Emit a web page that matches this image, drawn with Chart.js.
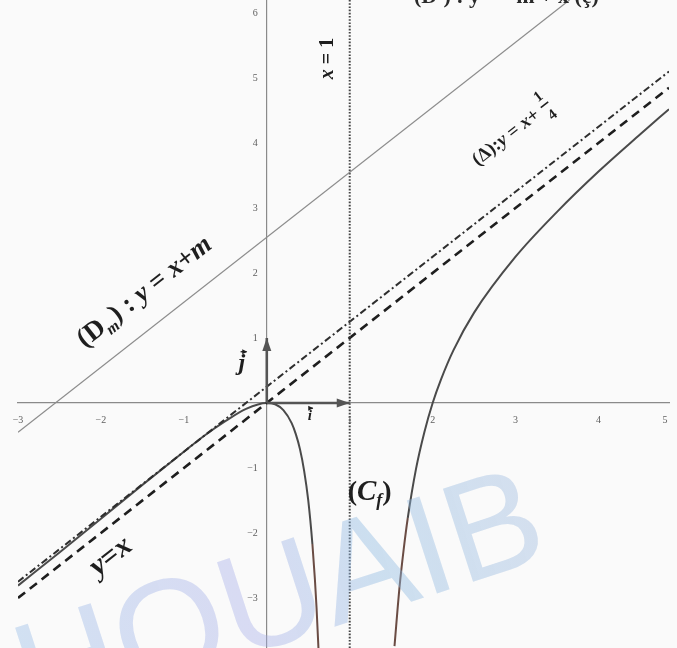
<!DOCTYPE html>
<html>
<head>
<meta charset="utf-8">
<script src="https://cdn.jsdelivr.net/npm/chart.js@4.4.0/dist/chart.umd.min.js"></script>
<style>
  html, body { margin: 0; padding: 0; background: #fafafa; }
  #wrap { width: 677px; height: 648px; }
</style>
</head>
<body>
<div id="wrap"><canvas id="graph"></canvas></div>
<script>
// (Cf) left branch, x < 1
const cfLeftX = [-3, -2.5, -2, -1.5, -1, -0.75, -0.5, -0.25, 0, 0.1, 0.2, 0.3, 0.35, 0.4, 0.45, 0.5, 0.55, 0.58, 0.6, 0.63];
const cfLeftY = [-2.81, -2.3, -1.78, -1.26, -0.75, -0.5, -0.28, -0.09, 0, -0.02, -0.11, -0.31, -0.48, -0.71, -1.04, -1.5, -2.17, -2.71, -3.15, -3.97];
// (Cf) right branch, x > 1
const cfRightX = [1.54, 1.6, 1.65, 1.7, 1.8, 1.9, 2, 2.1, 2.25, 2.5, 3, 3.5, 4, 4.5, 4.85];
const cfRightY = [-3.74, -2.84, -2.26, -1.77, -1.01, -0.45, 0, 0.36, 0.81, 1.39, 2.25, 2.94, 3.56, 4.13, 4.52];

// straight lines, end points
const dmX = [-3, 3.65];       // (Dm)
const dmY = [-0.45, 6.2];
const deltaX = [-3, 4.85];    // (Δ) tangent
const deltaY = [-2.75, 5.1];
const idX = [-3, 4.85];       // y = x
const idY = [-3, 4.85];
const asymX = [1, 1];         // x = 1
const asymY = [-3.77, 6.2];

// unit vectors i, j
const vecI = [[0, 0], [1, 0]];
const vecJ = [[0, 0], [0, 1]];

const xTicks = [-3, -2, -1, 1, 2, 3, 4, 5];
const yTicks = [-3, -2, -1, 1, 2, 3, 4, 5, 6];

const pts = (xs, ys) => xs.map((v, i) => ({ x: v, y: ys[i] }));

const SERIF = "'Liberation Serif', 'DejaVu Serif', serif";
const R = (s) => "bold " + s + "px " + SERIF;
const I = (s) => "italic bold " + s + "px " + SERIF;

// draws a row of text pieces along a (possibly rotated) baseline
function drawRuns(ctx, runs, px, py, angle) {
  ctx.save();
  ctx.translate(px, py);
  ctx.rotate(angle);
  ctx.textAlign = "left";
  ctx.textBaseline = "alphabetic";
  let total = 0;
  runs.forEach(r => {
    ctx.font = r.font;
    if (r.frac) {
      r.w = Math.max(ctx.measureText(r.frac[0]).width, ctx.measureText(r.frac[1]).width) + 4;
    } else {
      r.w = ctx.measureText(r.t).width;
    }
    total += r.w;
  });
  let cx = -total / 2;
  runs.forEach(r => {
    ctx.font = r.font;
    if (r.frac) {
      ctx.textAlign = "center";
      ctx.fillText(r.frac[0], cx + r.w / 2, -13);
      ctx.fillText(r.frac[1], cx + r.w / 2, 10);
      ctx.fillRect(cx + 1, -8, r.w - 2, 1.6);
      ctx.textAlign = "left";
    } else {
      ctx.fillText(r.t, cx, r.dy || 0);
    }
    cx += r.w;
  });
  ctx.restore();
}

function arrowHead(ctx, x0, y0, x1, y1, len, half) {
  const a = Math.atan2(y1 - y0, x1 - x0);
  ctx.beginPath();
  ctx.moveTo(x1, y1);
  ctx.lineTo(x1 - len * Math.cos(a) + half * Math.sin(a), y1 - len * Math.sin(a) - half * Math.cos(a));
  ctx.lineTo(x1 - len * Math.cos(a) - half * Math.sin(a), y1 - len * Math.sin(a) + half * Math.cos(a));
  ctx.closePath();
  ctx.fill();
}

// vector with a little arrow over a letter
function vecLetter(ctx, letter, size, px, py) {
  ctx.save();
  ctx.font = I(size);
  ctx.textAlign = "center";
  ctx.textBaseline = "alphabetic";
  ctx.fillText(letter, px, py);
  const w = ctx.measureText(letter).width;
  ctx.lineWidth = 1.3;
  ctx.beginPath();
  ctx.moveTo(px - w * 0.2, py - size * 0.78);
  ctx.lineTo(px + w * 0.7, py - size * 0.78);
  ctx.stroke();
  arrowHead(ctx, px, py - size * 0.78, px + w * 0.8, py - size * 0.78, 5, 2.5);
  ctx.restore();
}

const overlay = {
  id: "overlay",
  afterDatasetsDraw(chart) {
    const { ctx, chartArea, scales: { x, y } } = chart;
    const X = v => x.getPixelForValue(v);
    const Y = v => y.getPixelForValue(v);

    ctx.save();

    // tick labels
    ctx.font = "10px " + SERIF;
    ctx.fillStyle = "#5e5e5e";
    ctx.textAlign = "center";
    ctx.textBaseline = "middle";
    xTicks.forEach(v => {
      const px = Math.min(X(v), chartArea.right - 4);
      ctx.fillText(String(v).replace("-", "\u2212"), px, Y(0) + 17);
    });
    ctx.textAlign = "right";
    yTicks.forEach(v => {
      const py = Math.max(Y(v), 8);
      ctx.fillText(String(v).replace("-", "\u2212"), X(0) - 9, py);
    });

    // unit vectors
    ctx.fillStyle = "#555";
    ctx.strokeStyle = "#555";
    ctx.lineWidth = 2.6;
    [vecI, vecJ].forEach(v => {
      const x0 = X(v[0][0]), y0 = Y(v[0][1]), x1 = X(v[1][0]), y1 = Y(v[1][1]);
      ctx.beginPath();
      ctx.moveTo(x0, y0);
      ctx.lineTo(x1, y1);
      ctx.stroke();
      arrowHead(ctx, x0, y0, x1, y1, 13, 4.5);
    });

    ctx.fillStyle = "#1e1e1e";
    ctx.strokeStyle = "#1e1e1e";
    vecLetter(ctx, "j", 24, X(-0.3), Y(0.5));
    vecLetter(ctx, "i", 15, X(0.52), Y(-0.26));

    // line labels, turned along their lines
    const slope = Math.atan2(Y(dmY[1]) - Y(dmY[0]), X(dmX[1]) - X(dmX[0]));
    drawRuns(ctx, [
      { t: "(D", font: R(27) },
      { t: "m", font: I(16), dy: 6 },
      { t: ") : ", font: R(27) },
      { t: "y", font: I(27) },
      { t: " = ", font: R(27) },
      { t: "x", font: I(27) },
      { t: "+", font: R(27) },
      { t: "m", font: I(27) }
    ], X(-1.42), Y(1.62), slope);

    drawRuns(ctx, [
      { t: "(\u0394):", font: R(19) },
      { t: "y", font: I(19) },
      { t: " = ", font: R(19) },
      { t: "x", font: I(19) },
      { t: "+ ", font: R(19) },
      { frac: ["1", "4"], font: R(15) }
    ], X(3.0), Y(4.1), slope);

    drawRuns(ctx, [
      { t: "y", font: I(30) },
      { t: "=", font: R(30) },
      { t: "x", font: I(30) }
    ], X(-1.82), Y(-2.46), slope);

    drawRuns(ctx, [
      { t: "(", font: R(28) },
      { t: "C", font: I(29) },
      { t: "f", font: I(18), dy: 6 },
      { t: ")", font: R(28) }
    ], X(1.24), Y(-1.5), 0);

    drawRuns(ctx, [
      { t: "x", font: I(20) },
      { t: " = ", font: R(20) },
      { t: "1", font: R(20) }
    ], X(0.8), Y(5.3), -Math.PI / 2);

    // equation cut by the top edge
    ctx.font = R(22);
    ctx.textAlign = "left";
    ctx.textBaseline = "alphabetic";
    ctx.fillStyle = "#2a2a2a";
    ctx.fillText("(D\u2032) : y = \u2212m + x (\u00e7)", 414, 3);

    // watermark
    ctx.translate(552, 556);
    ctx.rotate(-18 * Math.PI / 180);
    ctx.font = "142px 'Liberation Sans', Arial, sans-serif";
    ctx.textAlign = "right";
    ctx.textBaseline = "alphabetic";
    const g = ctx.createLinearGradient(-560, 0, 0, 0);
    g.addColorStop(0, "rgba(150,190,230,0.42)");
    g.addColorStop(0.45, "rgba(165,172,232,0.40)");
    g.addColorStop(0.7, "rgba(140,185,225,0.42)");
    g.addColorStop(1, "rgba(150,180,220,0.38)");
    ctx.fillStyle = g;
    ctx.fillText("CHOUAIB", 0, 0);

    ctx.restore();
  }
};

const axisStyle = {
  grid: { display: false },
  border: { display: true, color: "#8a8a8a", width: 1.2 },
  ticks: { display: false }
};

// lower parts of (Cf) near the asymptote come out a little brownish
const cfSegment = {
  borderColor: c => (c.p0.parsed.x > 0 && c.p0.parsed.y < -1.6 && c.p1.parsed.y < -1.6) ? "#6a4c44" : "#4a4a4a"
};

new Chart(document.getElementById("graph"), {
  type: "scatter",
  data: {
    datasets: [
      { data: pts(dmX, dmY), borderColor: "#8c8c8c", borderWidth: 1.2 },
      { data: pts(asymX, asymY), borderColor: "#444", borderWidth: 2, borderDash: [1.6, 1.6] },
      { data: pts(idX, idY), borderColor: "#1e1e1e", borderWidth: 2.6, borderDash: [9, 6] },
      { data: pts(deltaX, deltaY), borderColor: "#2e2e2e", borderWidth: 2, borderDash: [7, 3, 2, 3] },
      { data: pts(cfLeftX, cfLeftY), borderColor: "#4a4a4a", borderWidth: 2, cubicInterpolationMode: "monotone", segment: cfSegment },
      { data: pts(cfRightX, cfRightY), borderColor: "#4a4a4a", borderWidth: 2, cubicInterpolationMode: "monotone", segment: cfSegment }
    ].map(d => Object.assign({ showLine: true, pointRadius: 0, fill: false }, d))
  },
  options: {
    responsive: true,
    maintainAspectRatio: false,
    animation: false,
    layout: { padding: { left: 18, right: 8, top: 0, bottom: 0 } },
    plugins: { legend: { display: false }, tooltip: { enabled: false } },
    scales: {
      x: Object.assign({ type: "linear", min: -3, max: 4.85, position: { y: 0 } }, axisStyle),
      y: Object.assign({ type: "linear", min: -3.77, max: 6.2, position: { x: 0 } }, axisStyle)
    }
  },
  plugins: [overlay]
});
</script>
</body>
</html>
